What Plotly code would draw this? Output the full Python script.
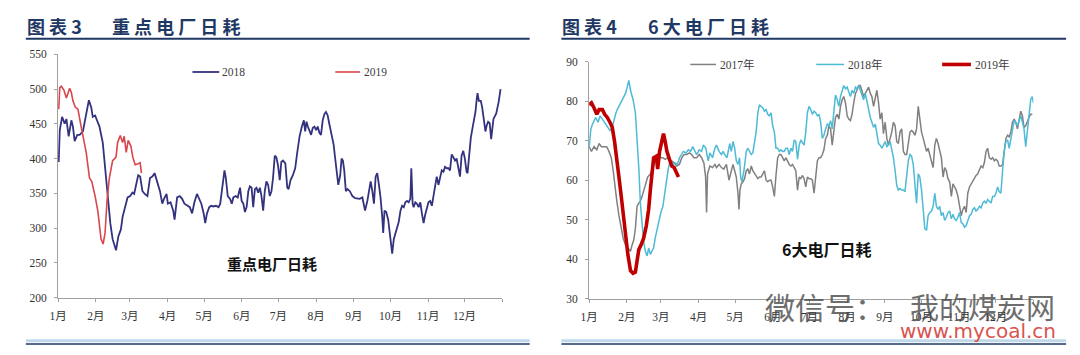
import plotly.graph_objects as go

# ---------------- data ----------------
MONTH_LABELS = ["1月", "2月", "3月", "4月", "5月", "6月", "7月", "8月", "9月", "10月", "11月", "12月", ""]
MONTH_TICK_DAYS = [0, 31, 59, 90, 120, 151, 181, 212, 243, 273, 304, 334, 365]

# Panel 1: key power plants daily coal consumption (10k t), day of year
key_2018_day = [
    0.5, 1.4, 3.3, 5.4, 6.8, 8.7, 10.9, 12.2, 13.6, 15.8,
    17.7, 20.4, 23.1, 25.3, 27.2, 28.5, 30.4, 32.6, 34.0, 36.7,
    39.4, 40.8, 42.9, 44.8, 46.7, 47.6, 49.5, 51.6, 53.0, 54.9,
    57.1, 59.2, 61.1, 62.5, 64.7, 65.8, 67.4, 69.3, 71.2, 73.4,
    75.5, 77.4, 79.3, 81.5, 83.7, 85.6, 87.0, 89.1, 90.2, 92.4,
    94.6, 95.7, 97.8, 100.0, 101.9, 103.8, 106.0, 108.2, 110.1, 112.0,
    114.1, 116.8,
    117.7, 119.6, 120.9, 122.3, 124.2, 125.8, 127.7, 129.6, 131.8, 133.2,
    135.1, 136.7, 137.8, 139.4, 141.3, 142.7, 144.0, 145.9, 147.6, 149.5,
    150.8, 152.2, 153.5, 154.9, 156.3, 157.6, 159.0, 160.3, 161.7, 163.0,
    164.4, 165.8, 167.1, 168.5, 169.8, 171.2, 172.6, 173.9, 175.3, 176.6,
    178.0, 179.3, 180.7, 182.1, 183.4, 184.8, 186.7, 188.3, 189.4, 191.0,
    192.9, 194.8, 196.5, 198.4, 200.3, 201.9, 203.0, 204.1, 205.2, 206.5,
    207.9, 209.2, 210.6, 212.0, 213.3, 214.7, 216.0, 217.4, 218.8, 220.1,
    221.5, 222.8, 224.2, 225.5, 226.4, 227.4, 229.1, 230.2, 231.8, 232.9,
    234.0, 235.1, 236.4,
    237.8, 239.7, 241.8, 244.0, 245.9, 247.8, 250.0, 252.2, 254.1, 255.4,
    256.8, 258.2, 259.5, 260.9, 262.2, 263.6, 264.9, 266.3, 267.1, 268.2,
    269.6, 271.2, 272.6, 273.9, 274.5, 275.8, 277.2, 278.5, 279.9, 281.3,
    282.6, 284.0, 285.3, 286.7, 288.0, 289.4, 290.2, 291.3, 292.1, 293.5,
    294.8, 296.2, 297.6, 298.9, 300.3, 301.6, 303.0, 304.3, 305.7, 307.1,
    308.4, 309.8, 311.1, 312.5, 313.9, 315.2, 316.6, 317.9, 319.3, 320.7,
    322.0, 323.4, 324.7, 326.1, 327.4, 328.8, 330.2, 331.5, 332.9, 334.2,
    335.6, 336.4, 337.5, 339.1, 340.5, 341.8, 342.9, 343.8, 344.6, 345.7,
    347.3, 348.4, 350.0, 351.1, 352.2, 353.3, 354.6,
    355.8, 357.7, 360.0, 362.0, 363.5,
]
key_2018_val = [
    395, 441, 460, 450, 457, 432, 455, 446, 425, 434,
    434, 439, 464, 484, 474, 460, 462, 453, 446, 423,
    372, 353, 307, 284, 270, 268, 288, 298, 316, 330,
    344, 346, 351, 349, 367, 376, 374, 353, 349, 346,
    372, 374, 379, 367, 353, 335, 342, 349, 335, 337,
    325, 312, 344, 346, 342, 335, 332, 330, 321, 337,
    349, 337,
    335, 321, 307, 321, 330, 332, 331, 332, 330, 335,
    358, 383, 372, 346, 342, 335, 344, 346, 344, 358,
    339, 335, 323, 330, 353, 360, 358, 330, 356, 358,
    351, 358, 346, 325, 353, 367, 362, 346, 353, 372,
    404, 402, 390, 369, 395, 397, 393, 358, 356, 369,
    376, 386, 409, 432, 446, 455, 439, 453, 446, 441,
    434, 444, 446, 441, 446, 437, 434, 455, 464, 467,
    462, 450, 437, 425, 420, 404, 381, 362, 376, 400,
    397, 383, 353,
    356, 353, 346, 343, 343, 342, 344, 325, 339, 351,
    367, 353, 335, 374, 379, 362, 344, 316, 293, 325,
    323, 312, 288, 272, 263, 284, 293, 300, 309, 325,
    332, 330, 337, 339, 337, 342, 386, 335, 330, 337,
    335, 330, 337, 321, 307, 319, 330, 337, 339, 332,
    346, 362, 374, 362, 376, 383, 381, 388, 386, 386,
    383, 406, 402, 397, 400, 386, 374, 404, 411, 400,
    381, 379, 404, 430, 444, 455, 467, 483, 494, 483,
    483, 474, 453, 439, 448, 453, 451,
    428, 457, 465, 482, 500,
]
key_2019_day = [
    0.5, 1.4, 2.7, 4.9, 6.8, 9.5, 10.9, 12.2, 14.1, 16.3,
    18.5, 20.4, 23.1, 25.8, 27.7, 30.4, 32.6, 35.3, 37.0, 38.6,
    40.2, 42.1, 44.8, 47.6, 48.9, 51.1, 53.0, 54.3, 56.0, 57.6,
    59.8, 61.4, 63.3, 65.2, 67.4, 68.5,
]
key_2019_val = [
    471, 502, 504, 498, 487, 501, 495, 483, 474, 471,
    450, 434, 409, 372, 367, 346, 325, 284, 277, 293,
    339, 372, 397, 402, 423, 433, 423, 432, 409, 426,
    418, 402, 391, 392, 394, 379,
]

# Panel 2: six major power groups daily coal consumption (10k t)
six_2017_day = [
    0.0, 1.9, 4.1, 6.3, 8.2, 10.1, 12.2, 14.4, 16.3, 18.2,
    19.8, 20.9, 22.6, 24.5, 26.4, 28.0, 29.9, 31.8, 34.0, 35.3,
    36.7, 38.0, 39.4, 40.8, 42.1, 43.5, 44.8, 46.2, 48.1, 50.3,
    52.4, 54.3, 56.3, 58.4, 60.6, 62.5, 64.4, 66.0, 67.9, 69.8,
    72.0, 74.2, 76.1, 78.0, 80.2, 82.3, 84.2, 86.1, 88.3, 90.5,
    92.4, 94.3, 95.7, 96.5, 97.3, 99.2, 101.4, 103.3, 104.6, 106.8,
    108.7, 110.6, 112.8, 114.9, 116.8,
    118.2, 119.6, 120.9, 122.3, 123.1, 123.9, 125.0, 126.4, 127.7, 129.1,
    130.4, 131.8, 133.2, 134.5, 135.9, 137.2, 138.6, 139.9, 141.3, 142.7,
    144.0, 145.4, 146.7, 148.1, 149.5, 150.8, 152.2, 153.5, 154.9, 156.3,
    157.6, 159.0, 160.3, 161.7, 163.0, 164.4, 165.8, 167.1, 168.5, 169.8,
    171.2, 172.6, 173.9, 175.3, 176.6, 178.0, 179.3, 180.7, 182.1, 183.4,
    184.8, 186.1, 187.5, 188.9, 190.2, 191.6, 192.9, 194.3, 195.7, 197.0,
    198.4, 199.7, 201.1, 202.4, 203.8, 205.2, 206.5, 207.9, 209.2, 210.6,
    212.0, 213.3, 214.7, 216.0, 217.4, 218.8, 220.1, 221.5, 222.8, 224.2,
    225.5, 226.9, 228.3, 229.6, 231.0, 232.3, 233.7,
    235.1, 236.4, 237.8, 239.1, 240.5, 241.8, 243.2, 244.6, 245.9, 247.3,
    248.6, 250.0, 251.4, 252.7, 254.1, 255.4, 256.8, 258.2, 259.5, 260.9,
    262.2, 263.6, 264.9, 266.3, 267.7, 269.0, 270.4, 271.7, 273.1, 274.5,
    275.8, 277.2, 278.5, 279.9, 281.3, 282.6, 284.0, 285.3, 286.7, 288.0,
    289.4, 290.8, 292.1, 293.5, 294.8, 296.2, 297.6, 298.9, 300.3, 301.6,
    303.0, 304.3, 305.7, 307.1, 308.4, 309.8, 311.1, 312.5, 313.9, 315.2,
    316.6, 317.9, 319.3, 320.7, 322.0, 323.4, 324.7, 326.1, 327.4, 328.8,
    330.2, 331.5, 332.9, 334.2, 335.6, 336.9, 338.3, 339.7, 341.0, 342.4,
    343.8, 345.1, 346.5, 347.8, 349.2, 350.5, 351.9, 353.3, 354.6, 356.0,
    357.3, 358.7, 360.1, 361.4, 362.8, 364.1,
]
six_2017_val = [
    68.5, 67.3, 68.5, 67.7, 69.3, 68.5, 68.5, 68.5, 67.3, 65.7,
    62.4, 59.1, 55.1, 51.0, 47.7, 45.3, 43.6, 42.8, 42.0, 43.6,
    44.9, 47.7, 53.4, 54.2, 54.7, 55.9, 57.5, 59.1, 60.8, 61.6,
    63.6, 64.9, 65.7, 65.7, 65.7, 65.3, 65.7, 64.9, 64.9, 64.4,
    63.6, 64.0, 65.7, 66.5, 66.5, 66.9, 66.5, 65.7, 65.7, 66.5,
    65.7, 64.4, 60.8, 51.8, 61.6, 63.6, 63.2, 64.0, 63.2, 64.0,
    63.2, 62.8, 64.0, 60.0, 62.4,
    64.0, 62.4, 60.8, 56.7, 52.6, 57.5, 59.1, 59.6, 60.4, 62.4,
    62.8, 61.6, 63.6, 62.4, 61.6, 61.2, 60.4, 60.8, 60.8, 61.6,
    62.4, 60.0, 59.6, 60.0, 60.0, 58.3, 55.9, 61.2, 65.7, 66.5,
    66.5, 65.7, 64.9, 65.7, 64.9, 64.0, 63.6, 64.0, 63.2, 62.4,
    57.5, 60.8, 60.4, 61.2, 60.4, 58.3, 60.8, 60.4, 60.4, 60.0,
    56.7, 61.6, 64.9, 65.7, 65.7, 66.5, 67.7, 70.6, 71.4, 73.8,
    73.0, 68.9, 72.2, 75.9, 76.7, 75.5, 78.7, 80.4, 81.2, 79.6,
    76.3, 75.5, 75.1, 76.7, 79.6, 82.0, 82.8, 84.0, 84.0, 82.8,
    81.2, 82.0, 82.8, 83.6, 82.0, 81.2, 78.7,
    81.2, 82.8, 79.6, 75.5, 77.1, 71.8, 74.7, 70.6, 68.9, 70.6,
    72.2, 74.7, 73.8, 69.8, 69.3, 72.2, 73.0, 67.3, 66.5, 66.5,
    68.9, 72.2, 72.6, 72.2, 71.4, 73.0, 78.7, 74.7, 72.2, 70.6,
    68.9, 67.3, 68.1, 66.5, 64.9, 63.2, 68.9, 70.6, 69.3, 67.3,
    65.7, 60.8, 63.2, 62.4, 60.4, 59.6, 55.9, 59.1, 58.3, 57.5,
    55.9, 53.4, 51.0, 52.6, 53.4, 51.8, 56.7, 58.3, 59.1, 60.0,
    60.8, 61.2, 61.6, 62.8, 63.6, 63.2, 64.4, 67.3, 68.1, 65.7,
    65.3, 65.7, 64.9, 65.3, 64.9, 63.6, 63.6, 64.0, 68.1, 70.6,
    71.4, 71.0, 72.2, 74.7, 75.5, 74.7, 73.0, 75.5, 77.5, 76.3,
    73.4, 73.8, 75.1, 75.9, 76.7, 76.7,
]
six_2018_day = [
    0.0, 1.4, 2.7, 5.4, 7.3, 9.0, 10.9, 12.8, 14.9, 17.1,
    19.0, 20.4, 21.7, 23.1, 25.3, 27.2, 28.5, 29.9, 31.3, 32.6,
    34.0, 36.1, 38.0, 39.4, 40.8, 42.1, 43.5, 44.8, 46.2, 47.6,
    48.9, 50.3, 51.6, 53.0, 54.3, 55.7, 57.1, 59.0, 60.6, 62.5,
    63.9, 65.2, 66.6, 68.8, 70.7, 72.6, 74.2, 76.1, 77.4, 79.6,
    81.5, 83.4, 85.1, 87.0, 88.3, 90.5, 92.4, 93.8, 95.9, 97.8,
    99.2, 101.4, 103.3, 104.6, 106.8, 108.7, 110.1, 111.4, 113.3, 115.5,
    116.8, 118.2, 119.6, 120.9, 122.3, 123.6, 124.5, 125.5, 127.2, 129.1,
    130.4, 131.8, 133.2, 134.5, 135.9, 137.2, 138.6, 139.9, 141.3, 142.7,
    144.0, 145.4, 146.7, 148.1, 149.5, 150.8, 152.2, 153.5, 154.9, 156.3,
    157.6, 159.0, 160.3, 161.7, 163.0, 164.4, 165.8, 167.1, 168.5, 169.8,
    171.2, 172.6, 173.9, 175.3, 176.6, 178.0, 179.3, 180.7, 182.1, 183.4,
    184.8, 186.1, 187.5, 188.9, 190.2, 191.6, 192.9, 194.3, 195.7, 197.0,
    198.4, 199.7, 201.1, 202.4, 203.8, 205.2, 206.5, 207.9, 209.2, 210.6,
    212.0, 213.3, 214.7, 216.0, 217.4, 218.8, 220.1, 221.5, 222.8, 224.2,
    225.5, 226.9, 228.3, 229.6, 231.0, 232.3, 233.7,
    235.1, 236.4, 237.8, 239.1, 240.5, 241.8, 243.2, 244.6, 245.9, 247.3,
    248.6, 250.0, 251.4, 252.7, 254.1, 255.4, 256.8, 258.2, 259.5, 260.9,
    262.2, 263.6, 264.9, 266.3, 267.7, 269.0, 270.4, 271.7, 273.1, 274.5,
    275.8, 277.2, 278.5, 279.9, 281.3, 282.6, 284.0, 285.3, 286.7, 288.0,
    289.4, 290.8, 292.1, 293.5, 294.8, 296.2, 297.6, 298.9, 300.3, 301.6,
    303.0, 304.3, 305.7, 307.1, 308.4, 309.8, 311.1, 312.5, 313.9, 315.2,
    316.6, 317.9, 319.3, 320.7, 322.0, 323.4, 324.7, 326.1, 327.4, 328.8,
    330.2, 331.5, 332.9, 334.2, 335.6, 336.9, 338.3, 339.7, 341.0, 342.4,
    343.8, 345.1, 346.5, 347.8, 349.2, 350.5, 351.9, 353.3, 354.6, 356.0,
    357.3, 358.7, 360.1, 361.4, 362.8, 364.1, 365.0,
]
six_2018_val = [
    68.1, 73.0, 74.2, 75.9, 74.7, 76.3, 75.5, 74.7, 73.8, 72.6,
    73.4, 75.5, 76.7, 77.9, 79.1, 80.4, 81.2, 82.0, 83.6, 85.3,
    82.8, 80.4, 77.1, 70.6, 63.2, 54.2, 47.7, 44.4, 42.0, 40.8,
    42.8, 41.2, 42.0, 42.8, 45.3, 47.7, 49.3, 51.8, 53.4, 57.5,
    60.8, 63.2, 64.9, 64.0, 64.4, 64.0, 65.7, 66.5, 67.3, 66.9,
    67.7, 67.3, 68.5, 67.3, 66.5, 67.7, 67.3, 68.9, 68.1, 64.9,
    66.9, 65.7, 68.1, 68.9, 67.3, 66.5, 67.3, 66.5, 65.7, 69.3,
    67.3, 69.8, 68.1, 64.9, 64.0, 65.7, 60.8, 59.6, 62.4, 67.3,
    68.1, 67.3, 66.5, 66.9, 69.8, 72.2, 77.1, 79.1, 78.7, 78.3,
    77.5, 77.9, 76.7, 76.3, 77.1, 73.8, 72.2, 68.1, 68.1, 67.3,
    67.7, 67.3, 67.3, 68.1, 68.1, 66.5, 68.1, 67.3, 70.2, 69.8,
    65.3, 68.9, 70.2, 69.3, 68.9, 72.2, 77.1, 78.7, 77.9, 76.7,
    77.5, 77.1, 76.3, 76.7, 74.7, 70.6, 71.4, 73.0, 74.2, 73.8,
    75.1, 73.0, 77.9, 81.6, 80.4, 78.7, 81.2, 82.8, 84.0, 83.2,
    83.6, 82.4, 81.2, 82.8, 82.0, 83.6, 83.2, 84.0, 82.8, 81.2,
    80.4, 82.0, 79.6, 77.9, 75.9, 74.7, 73.4,
    74.2, 71.4, 69.3, 68.9, 68.1, 68.9, 69.8, 68.5, 68.9, 69.8,
    68.1, 65.7, 62.4, 58.7, 57.5, 57.9, 57.5, 57.5, 57.1, 61.6,
    64.9, 66.5, 66.1, 64.0, 59.1, 54.2, 61.6, 60.8, 57.5, 52.6,
    47.7, 47.3, 51.0, 51.8, 52.2, 53.4, 56.7, 53.4, 52.6, 53.4,
    51.0, 51.8, 49.8, 50.6, 51.8, 52.2, 50.2, 51.4, 50.2, 49.8,
    50.6, 51.8, 49.3, 48.9, 48.1, 48.5, 49.8, 51.0, 51.4, 52.6,
    53.0, 52.2, 52.6, 53.4, 53.0, 54.2, 54.7, 54.2, 55.1, 54.7,
    54.2, 55.9, 55.9, 56.7, 58.3, 57.1, 56.7, 62.4, 67.3, 69.8,
    70.2, 68.1, 70.6, 73.0, 75.1, 74.7, 73.8, 75.1, 76.3, 74.7,
    73.0, 68.5, 73.0, 76.3, 80.4, 81.2, 79.6,
]
six_2019_day = [
    0.0, 1.9, 4.1, 6.3, 8.2, 10.9, 12.8, 14.9, 17.1, 19.0,
    20.9, 23.1, 24.5, 26.4, 28.0, 29.9, 31.8, 34.0, 36.1, 38.0,
    39.4, 40.8, 42.7, 44.8, 47.0, 48.9, 50.3, 51.6, 53.0, 55.2,
    56.3, 57.9, 59.8, 61.1, 62.5, 63.9, 66.0, 67.9, 69.8, 71.5,
    73.4,
]
six_2019_val = [
    79.1, 79.6, 78.3, 76.7, 77.9, 77.9, 76.7, 75.9, 74.7, 73.4,
    69.8, 64.9, 60.8, 55.9, 51.0, 46.1, 41.2, 37.1, 36.4, 36.7,
    39.6, 42.4, 43.6, 45.3, 48.5, 52.6, 57.5, 62.4, 65.7, 66.1,
    62.8, 67.3, 69.8, 71.8, 69.8, 67.3, 65.3, 63.6, 63.2, 62.0,
    60.8,
]

# ---------------- styling / layout helpers ----------------
W, H = 1080, 355
NAVY = "#1F3864"
AXIS_COL = "#A0A0A0"
SERIF = "Liberation Serif, Noto Sans CJK SC, serif"
CJK = "Noto Sans CJK SC, sans-serif"


def fx(p):
    return p / W


def fy(p):
    return 1 - p / H


fig = go.Figure()
fig.add_trace(go.Scatter(x=key_2018_day, y=key_2018_val, mode="lines", name="2018",
                         line=dict(color="#33327E", width=1.8), xaxis="x", yaxis="y"))
fig.add_trace(go.Scatter(x=key_2019_day, y=key_2019_val, mode="lines", name="2019",
                         line=dict(color="#D9464B", width=1.6), xaxis="x", yaxis="y"))
fig.add_trace(go.Scatter(x=six_2017_day, y=six_2017_val, mode="lines", name="2017年",
                         line=dict(color="#808080", width=1.5), xaxis="x2", yaxis="y2"))
fig.add_trace(go.Scatter(x=six_2018_day, y=six_2018_val, mode="lines", name="2018年",
                         line=dict(color="#4DBAD6", width=1.5), xaxis="x2", yaxis="y2"))
fig.add_trace(go.Scatter(x=six_2019_day, y=six_2019_val, mode="lines", name="2019年",
                         line=dict(color="#C00000", width=3.6), xaxis="x2", yaxis="y2"))

common_x = dict(range=[0, 365], tickmode="array", tickvals=MONTH_TICK_DAYS, ticktext=MONTH_LABELS,
                showline=True, linecolor=AXIS_COL, linewidth=1, ticks="outside", ticklen=3,
                tickcolor=AXIS_COL, showgrid=False, zeroline=False, fixedrange=True,
                tickfont=dict(family=SERIF, size=11.5, color="#333333"), ticklabelstandoff=5)
common_y = dict(showline=True, linecolor=AXIS_COL, linewidth=1, ticks="outside", ticklen=3,
                tickcolor=AXIS_COL, showgrid=False, zeroline=False, fixedrange=True,
                tickfont=dict(family=SERIF, size=11.5, color="#333333"), ticklabelstandoff=5)

fig.update_layout(
    width=W, height=H, margin=dict(l=0, r=0, t=0, b=0),
    paper_bgcolor="white", plot_bgcolor="white", showlegend=False,
    xaxis=dict(domain=[fx(49.5), fx(497.5)], anchor="y", **common_x),
    yaxis=dict(domain=[fy(301.7), fy(50)], anchor="x", range=[200, 550], dtick=50, tick0=200, **common_y),
    xaxis2=dict(domain=[fx(585), fx(1033)], anchor="y2", **common_x),
    yaxis2=dict(domain=[fy(302.8), fy(57.8)], anchor="x2", range=[30, 90], dtick=10, tick0=30, **common_y),
)

shapes = []
annotations = []


def hline(x0, x1, y, color, width):
    shapes.append(dict(type="line", xref="paper", yref="paper", x0=fx(x0), x1=fx(x1),
                       y0=fy(y), y1=fy(y), line=dict(color=color, width=width)))


def text(x, y, s, size, color, family, xanchor="left", bold=False, opacity=1.0):
    annotations.append(dict(xref="paper", yref="paper", x=fx(x), y=fy(y), text=("<b>%s</b>" % s) if bold else s,
                            showarrow=False, xanchor=xanchor, yanchor="middle", opacity=opacity,
                            font=dict(size=size, color=color, family=family)))


# title rules and bottom rules
hline(17, 525, 34, NAVY, 2)
hline(557, 1066, 34, NAVY, 2)
hline(17, 525, 346.5, "#BFD9EA", 3)
hline(557, 1066, 346.5, "#BFD9EA", 3)
hline(17, 525, 349.8, NAVY, 1.6)
hline(557, 1066, 349.8, NAVY, 1.6)

# titles
text(16, 21, "图 表 3", 18, NAVY, CJK, bold=True)
text(102, 21, "重 点 电 厂 日 耗", 18, NAVY, CJK, bold=True)
text(556, 21, "图 表 4", 18, NAVY, CJK, bold=True)
text(642, 21, "6 大 电 厂 日 耗", 18, NAVY, CJK, bold=True)

# legends (panel 1)
hline(185, 212, 68.3, "#33327E", 1.8)
text(213, 68.3, "2018", 11.5, "#404040", SERIF)
hline(329, 354, 68.3, "#D9464B", 1.6)
text(356, 68.3, "2019", 11.5, "#404040", SERIF)
# legends (panel 2)
hline(687, 713, 60.5, "#808080", 1.5)
text(715, 60.5, "2017年", 11.5, "#404040", SERIF)
hline(814, 842, 60.5, "#4DBAD6", 1.5)
text(844, 60.5, "2018年", 11.5, "#404040", SERIF)
hline(941, 970, 60.5, "#C00000", 3.6)
text(972, 60.5, "2019年", 11.5, "#404040", SERIF)

# in-plot labels
text(265, 266, "重点电厂日耗", 15, "#111111", CJK, xanchor="center", bold=True)
text(824, 251, "6大电厂日耗", 16, "#111111", CJK, xanchor="center", bold=True)

# watermark
text(760, 310, "微信号：", 30, "#4A4A4A", CJK, opacity=0.8)
text(982, 310, "我的煤炭网", 29, "#4A4A4A", CJK, xanchor="center", opacity=0.8)
text(977, 336, "www.mycoal.cn", 20, "#D9534F", "DejaVu Sans, sans-serif", xanchor="center")

fig.update_layout(shapes=shapes, annotations=annotations)
fig.write_html("out.html", config={"displayModeBar": False, "staticPlot": True},
               post_script="document.body.style.margin='0px';document.body.style.overflow='hidden';")
